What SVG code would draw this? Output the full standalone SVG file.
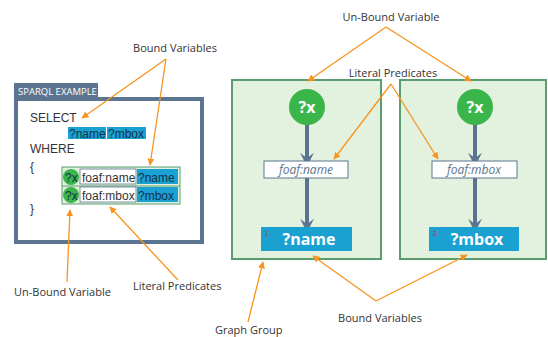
<svg xmlns="http://www.w3.org/2000/svg" width="548" height="337" viewBox="0 0 548 337">
<style>
.lbl{font-family:"Open Sans","Liberation Sans",sans-serif;font-size:11px;fill:#333}
.code{font-family:"Liberation Sans",sans-serif;font-size:12px;fill:#333}
.ann{stroke:#f7941d;stroke-width:1.3;fill:none}
.grp{fill:#e3f1df;stroke:#5a9e6f;stroke-width:2}
.edge{stroke:#5b7590;stroke-width:4;fill:none}
.pred{fill:#fff;stroke:#5b7590;stroke-width:1}
.predt{font-family:"Open Sans","Liberation Sans",sans-serif;font-size:12px;font-style:italic;fill:#5b7590;text-anchor:middle}
.var{fill:#1ba1d1}
.vart{font-family:"Open Sans","Liberation Sans",sans-serif;font-size:16px;font-weight:bold;fill:#fff;text-anchor:middle}
.circ{fill:#3ab54a}
.circt{font-family:"Open Sans","Liberation Sans",sans-serif;font-size:16px;font-weight:bold;fill:#fff;text-anchor:middle}
.hl{fill:#1ba1d1}
.hlt{font-family:"Liberation Sans",sans-serif;font-size:12px;fill:#12314d}
.num{font-family:"Liberation Sans",sans-serif;font-size:7px;fill:#e0202a}
</style>
<defs>
<marker id="oa" viewBox="0 0 10 10" refX="9" refY="5" markerWidth="7" markerHeight="7" orient="auto" markerUnits="userSpaceOnUse">
<path d="M0,0 L10,5 L0,10 z" fill="#f7941d"/>
</marker>
<marker id="da" viewBox="0 0 10 10" refX="6" refY="5" markerWidth="14" markerHeight="14" orient="auto" markerUnits="userSpaceOnUse">
<path d="M0,0 L10,5 L0,10 L4,5 z" fill="#5b7590"/>
</marker>
</defs>

<g id="sparql-example">
<rect x="14" y="83" width="84" height="16" fill="#5b7590"/>
<text x="18" y="95" font-family="Open Sans, Liberation Sans, sans-serif" font-size="9.5" fill="#fff">SPARQL EXAMPLE</text>
<rect x="16" y="99" width="186" height="143" fill="#fff" stroke="#5b7590" stroke-width="4"/>
<text class="code" x="30" y="122">SELECT</text>
<rect class="hl" x="68" y="127" width="38" height="12"/>
<text class="hlt" x="69" y="137.5">?name</text>
<rect class="hl" x="107" y="127" width="39" height="12"/>
<text class="hlt" x="108" y="137.5">?mbox</text>
<text class="code" x="30" y="153">WHERE</text>
<text class="code" x="30" y="171">{</text>
<text class="code" x="30" y="213">}</text>
<rect x="62" y="167" width="118" height="37" fill="#e3f1df" stroke="#5a9e6f" stroke-width="1"/>
<line x1="62" y1="186" x2="180" y2="186" stroke="#5a9e6f" stroke-width="1"/>
<circle class="circ" cx="71" cy="177" r="8"/>
<circle class="circ" cx="71" cy="195" r="8"/>
<text class="hlt" x="65" y="181.5" fill="#1a3a1a">?x</text>
<text class="hlt" x="65" y="199.5" fill="#1a3a1a">?x</text>
<rect x="80" y="169" width="56" height="15" fill="#fff" stroke="#5b7590" stroke-width="0.8"/>
<text class="code" x="82" y="181.5">foaf:name</text>
<rect class="hl" x="137" y="169" width="41" height="15"/>
<text class="hlt" x="138" y="181.5">?name</text>
<rect x="80" y="187" width="56" height="15" fill="#fff" stroke="#5b7590" stroke-width="0.8"/>
<text class="code" x="82" y="199.5">foaf:mbox</text>
<rect class="hl" x="137" y="187" width="41" height="15"/>
<text class="hlt" x="138" y="199.5">?mbox</text>
</g>

<g id="group1">
<rect class="grp" x="232" y="80" width="149" height="179"/>
<line class="edge" x1="307" y1="120" x2="307" y2="161" marker-end="url(#da)"/>
<line class="edge" x1="307" y1="178" x2="307" y2="227" marker-end="url(#da)"/>
<circle class="circ" cx="307" cy="107" r="18"/>
<text class="circt" x="307" y="113">?x</text>
<rect class="pred" x="264" y="161" width="84" height="17"/>
<text class="predt" x="306" y="174">foaf:name</text>
<rect class="var" x="261" y="227" width="91" height="24"/>
<text class="vart" x="309" y="245">?name</text>
<text class="num" x="265" y="236">1</text>
</g>

<g id="group2">
<rect class="grp" x="400" y="80" width="146" height="179"/>
<line class="edge" x1="475" y1="120" x2="475" y2="161" marker-end="url(#da)"/>
<line class="edge" x1="475" y1="178" x2="475" y2="227" marker-end="url(#da)"/>
<circle class="circ" cx="475" cy="107" r="18"/>
<text class="circt" x="475" y="113">?x</text>
<rect class="pred" x="432" y="161" width="85" height="17"/>
<text class="predt" x="474" y="174">foaf:mbox</text>
<rect class="var" x="429" y="227" width="90" height="24"/>
<text class="vart" x="477" y="245">?mbox</text>
<text class="num" x="433" y="236">2</text>
</g>

<g id="connectors">
<line class="ann" x1="166" y1="59" x2="82" y2="118" marker-end="url(#oa)"/>
<line class="ann" x1="166" y1="59" x2="150" y2="165" marker-end="url(#oa)"/>
<line class="ann" x1="67" y1="282" x2="70" y2="210" marker-end="url(#oa)"/>
<line class="ann" x1="178" y1="280" x2="110" y2="207" marker-end="url(#oa)"/>
<line class="ann" x1="386" y1="27" x2="308" y2="81" marker-end="url(#oa)"/>
<line class="ann" x1="386" y1="27" x2="471" y2="81" marker-end="url(#oa)"/>
<line class="ann" x1="391" y1="84" x2="334" y2="159" marker-end="url(#oa)"/>
<line class="ann" x1="391" y1="84" x2="438" y2="159" marker-end="url(#oa)"/>
<line class="ann" x1="376" y1="301" x2="313" y2="256" marker-end="url(#oa)"/>
<line class="ann" x1="376" y1="301" x2="467" y2="255" marker-end="url(#oa)"/>
<line class="ann" x1="248" y1="322" x2="263" y2="262" marker-end="url(#oa)"/>
</g>

<g id="labels">
<text class="lbl" x="175" y="52" text-anchor="middle">Bound Variables</text>
<text class="lbl" x="14" y="296">Un-Bound Variable</text>
<text class="lbl" x="133" y="290">Literal Predicates</text>
<text class="lbl" x="391" y="21" text-anchor="middle">Un-Bound Variable</text>
<text class="lbl" x="393" y="77" text-anchor="middle">Literal Predicates</text>
<text class="lbl" x="380" y="322" text-anchor="middle">Bound Variables</text>
<text class="lbl" x="215" y="334">Graph Group</text>
</g>
</svg>
